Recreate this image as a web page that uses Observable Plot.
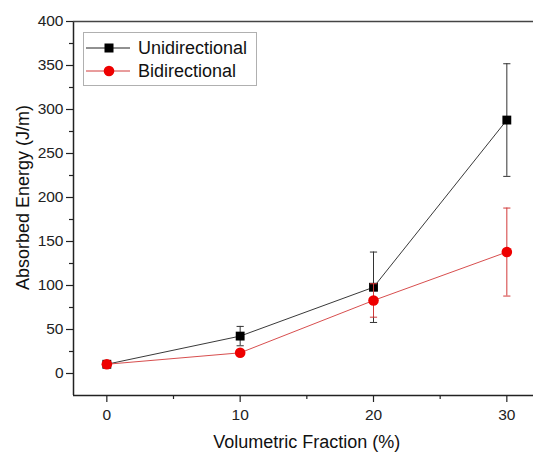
<!DOCTYPE html>
<html>
<head>
<meta charset="utf-8">
<script src="https://cdn.jsdelivr.net/npm/d3@7"></script>
<script src="https://cdn.jsdelivr.net/npm/@observablehq/plot@0.6"></script>
<style>
  html, body { margin: 0; padding: 0; background: #fff; }
  #wrap { position: relative; width: 534px; height: 452px; font-family: "Liberation Sans", Arial, sans-serif; }
  #legend { position: absolute; left: 83px; top: 32px; width: 172px; height: 52px; border: 1px solid #b0b0b0; background: #fff; }
  #legend .row { position: absolute; left: 0; height: 22px; display: flex; align-items: center; font-size: 18px; color: #111; }
  #legend svg { margin-left: 2px; margin-right: 8px; }
</style>
</head>
<body>
<div id="wrap"></div>
<script>
const fractions = [0, 10, 20, 30];
const uniMean = [10.5, 42.5, 98, 288];
const uniErr = [2, 11, 40, 64];
const biMean = [10.5, 23.5, 83, 138];
const biErr = [2, 3, 19, 50];
const yTicks = [0, 50, 100, 150, 200, 250, 300, 350, 400];
const yMinor = [25, 75, 125, 175, 225, 275, 325, 375];
const xTicks = [0, 10, 20, 30];
const xMinor = [5, 15, 25];
const seriesNames = ["Unidirectional", "Bidirectional"];
const xLabel = "Volumetric Fraction (%)";
const yLabel = "Absorbed Energy (J/m)";

const uni = fractions.map((f, i) => ({x: f, y: uniMean[i], lo: uniMean[i] - uniErr[i], hi: uniMean[i] + uniErr[i]}));
const bi = fractions.map((f, i) => ({x: f, y: biMean[i], lo: biMean[i] - biErr[i], hi: biMean[i] + biErr[i]}));

const blackBar = "#333";
const redLine = "#d23a3a";
const redDot = "#ee0000";
const capHalf = 0.27;

function errMarks(data, color) {
  return [
    Plot.ruleX(data, {x: "x", y1: "lo", y2: "hi", stroke: color, strokeWidth: 1}),
    Plot.link(data, {x1: d => d.x - capHalf, x2: d => d.x + capHalf, y1: "hi", y2: "hi", stroke: color, strokeWidth: 1}),
    Plot.link(data, {x1: d => d.x - capHalf, x2: d => d.x + capHalf, y1: "lo", y2: "lo", stroke: color, strokeWidth: 1})
  ];
}

const chart = Plot.plot({
  width: 534,
  height: 452,
  marginLeft: 73,
  marginRight: 1,
  marginTop: 21,
  marginBottom: 57,
  style: {fontFamily: "Liberation Sans, Arial, sans-serif", background: "#fff", overflow: "visible"},
  x: {domain: [-2.5, 32]},
  y: {domain: [-25, 400]},
  marks: [
    Plot.axisY({ticks: yTicks, tickSize: 7, tickPadding: 3, fontSize: 15.5, label: null, stroke: "#222", color: "#222", strokeWidth: 1.2}),
    Plot.axisY({ticks: yMinor, tickSize: 4, text: null, label: null, stroke: "#222", strokeWidth: 1.2}),
    Plot.axisX({ticks: xTicks, tickSize: 7, tickPadding: 6, fontSize: 15.5, label: null, stroke: "#222", color: "#222", strokeWidth: 1.2}),
    Plot.axisX({ticks: xMinor, tickSize: 4, text: null, label: null, stroke: "#222", strokeWidth: 1.2}),
    Plot.ruleX([-2.5], {stroke: "#222", strokeWidth: 1.5}),
    Plot.ruleY([-25], {stroke: "#222", strokeWidth: 1.5}),
    Plot.ruleY([400], {stroke: "#444", strokeWidth: 1.3}),
    Plot.line(uni, {x: "x", y: "y", stroke: "#222", strokeWidth: 0.9}),
    ...errMarks(uni, blackBar),
    Plot.dot(uni, {x: "x", y: "y", symbol: "square", r: 5, fill: "#000", stroke: "none"}),
    Plot.line(bi, {x: "x", y: "y", stroke: redLine, strokeWidth: 0.9}),
    ...errMarks(bi, redLine),
    Plot.dot(bi, {x: "x", y: "y", symbol: "circle", r: 5.3, fill: redDot, stroke: "none"}),
    Plot.text([xLabel], {x: 15, y: -25, dy: 47, fontSize: 18, fill: "#111", textAnchor: "middle"}),
    Plot.text([yLabel], {x: -2.5, y: 200, dx: -50, rotate: -90, fontSize: 18, fill: "#111", textAnchor: "middle"})
  ]
});

const wrap = document.getElementById("wrap");
wrap.appendChild(chart);

const legend = document.createElement("div");
legend.id = "legend";
const legendSpec = [
  {name: seriesNames[0], line: "#222", symbol: "square", fill: "#000", top: 4},
  {name: seriesNames[1], line: redLine, symbol: "circle", fill: redDot, top: 27}
];
for (const s of legendSpec) {
  const row = document.createElement("div");
  row.className = "row";
  row.style.top = s.top + "px";
  const shape = s.symbol === "square"
    ? `<rect x="18.5" y="6.5" width="9" height="9" fill="${s.fill}"/>`
    : `<circle cx="23" cy="11" r="5.3" fill="${s.fill}"/>`;
  row.innerHTML = `<svg width="44" height="22"><line x1="0" x2="44" y1="11" y2="11" stroke="${s.line}" stroke-width="1"/>${shape}</svg><span>${s.name}</span>`;
  legend.appendChild(row);
}
wrap.appendChild(legend);
</script>
</body>
</html>
